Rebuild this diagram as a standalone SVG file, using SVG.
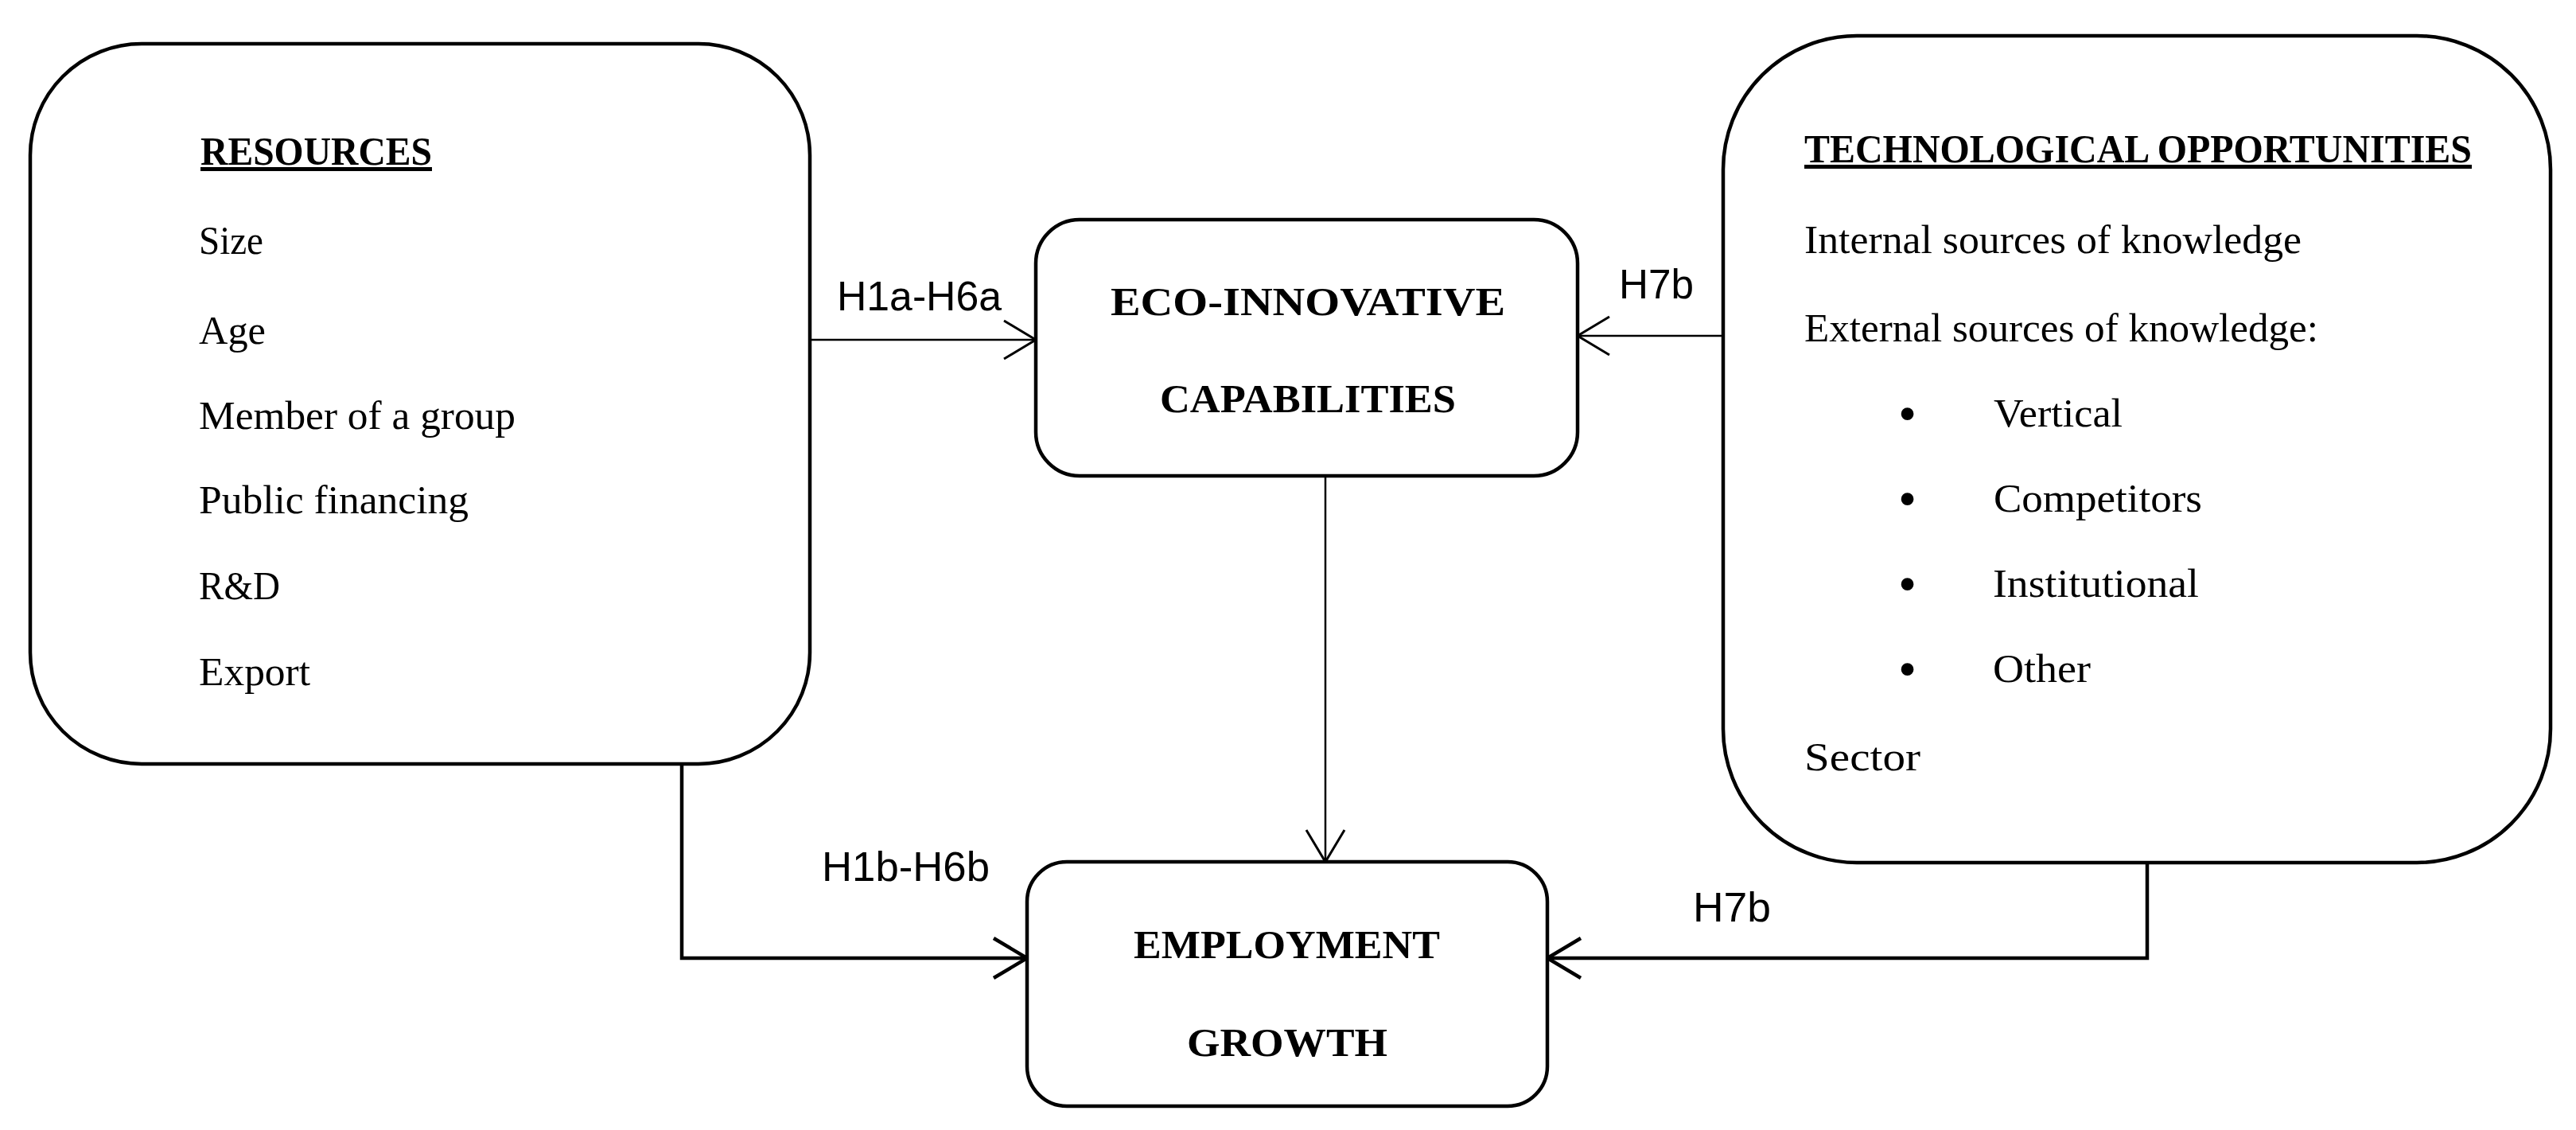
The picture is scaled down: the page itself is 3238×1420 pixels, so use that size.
<svg xmlns="http://www.w3.org/2000/svg" width="3238" height="1420" viewBox="0 0 3238 1420">
<style>
.box{fill:#fff;stroke:#000;stroke-width:4.5}
.t{font-family:"Liberation Serif","Times New Roman",serif;font-size:51px;fill:#000}
.h{font-family:"Liberation Serif","Times New Roman",serif;font-size:50px;font-weight:bold;fill:#000}
.u{text-decoration:underline}
.b{font-family:"Liberation Serif","Times New Roman",serif;font-size:66px;fill:#000}
.lbl{font-family:"Liberation Sans",Arial,sans-serif;font-size:52px;fill:#000}
.thin{fill:none;stroke:#000;stroke-width:2.5}
.thick{fill:none;stroke:#000;stroke-width:4.5}
</style>
<defs>
<marker id="aThin" markerUnits="userSpaceOnUse" markerWidth="60" markerHeight="60" viewBox="-50 -30 60 60" refX="0" refY="0" orient="auto">
<path d="M-40,-24 L0,0 L-40,24" fill="none" stroke="#000" stroke-width="3"/>
</marker>
<marker id="aThick" markerUnits="userSpaceOnUse" markerWidth="60" markerHeight="60" viewBox="-50 -30 60 60" refX="0" refY="0" orient="auto">
<path d="M-42,-25 L0,0 L-42,25" fill="none" stroke="#000" stroke-width="4.5"/>
</marker>
</defs>
<rect width="3238" height="1420" fill="#fff"/>

<g id="connectors">
<line class="thin" x1="1018" y1="427" x2="1302" y2="427" marker-end="url(#aThin)"/>
<line class="thin" x1="2166" y1="422" x2="1983" y2="422" marker-end="url(#aThin)"/>
<line class="thin" x1="1666" y1="598" x2="1666" y2="1083" marker-end="url(#aThin)"/>
<polyline class="thick" points="857,960 857,1204 1291,1204" marker-end="url(#aThick)"/>
<polyline class="thick" points="2699,1084 2699,1204 1945,1204" marker-end="url(#aThick)"/>
<text class="lbl" x="1052" y="390" textLength="207" lengthAdjust="spacingAndGlyphs">H1a-H6a</text>
<text class="lbl" x="2035" y="375" textLength="94" lengthAdjust="spacingAndGlyphs">H7b</text>
<text class="lbl" x="1033" y="1107" textLength="211" lengthAdjust="spacingAndGlyphs">H1b-H6b</text>
<text class="lbl" x="2128" y="1158" textLength="98" lengthAdjust="spacingAndGlyphs">H7b</text>
</g>

<g id="resources">
<rect class="box" x="38" y="55" width="980" height="905" rx="140" ry="140"/>
<text class="h u" x="252" y="207" textLength="291" lengthAdjust="spacingAndGlyphs">RESOURCES</text>
<text class="t" x="250" y="319" textLength="81" lengthAdjust="spacingAndGlyphs">Size</text>
<text class="t" x="250" y="432" textLength="84" lengthAdjust="spacingAndGlyphs">Age</text>
<text class="t" x="250" y="539" textLength="398" lengthAdjust="spacingAndGlyphs">Member of a group</text>
<text class="t" x="250" y="645" textLength="339" lengthAdjust="spacingAndGlyphs">Public financing</text>
<text class="t" x="250" y="753" textLength="102" lengthAdjust="spacingAndGlyphs">R&amp;D</text>
<text class="t" x="250" y="861" textLength="140" lengthAdjust="spacingAndGlyphs">Export</text>
</g>

<g id="eco">
<rect class="box" x="1302" y="276" width="681" height="322" rx="55" ry="55"/>
<text class="h" x="1396" y="396" textLength="496" lengthAdjust="spacingAndGlyphs">ECO-INNOVATIVE</text>
<text class="h" x="1458" y="518" textLength="372" lengthAdjust="spacingAndGlyphs">CAPABILITIES</text>
</g>

<g id="technological">
<rect class="box" x="2166" y="45" width="1040" height="1039" rx="168" ry="168"/>
<text class="h u" x="2268" y="204" textLength="839" lengthAdjust="spacingAndGlyphs">TECHNOLOGICAL OPPORTUNITIES</text>
<text class="t" x="2268" y="318" textLength="625" lengthAdjust="spacingAndGlyphs">Internal sources of knowledge</text>
<text class="t" x="2268" y="429" textLength="646" lengthAdjust="spacingAndGlyphs">External sources of knowledge:</text>
<text class="b" x="2386" y="542">•</text>
<text class="t" x="2506" y="536" textLength="162" lengthAdjust="spacingAndGlyphs">Vertical</text>
<text class="b" x="2386" y="649">•</text>
<text class="t" x="2506" y="643" textLength="262" lengthAdjust="spacingAndGlyphs">Competitors</text>
<text class="b" x="2386" y="756">•</text>
<text class="t" x="2505" y="750" textLength="259" lengthAdjust="spacingAndGlyphs">Institutional</text>
<text class="b" x="2386" y="863">•</text>
<text class="t" x="2505" y="857" textLength="123" lengthAdjust="spacingAndGlyphs">Other</text>
<text class="t" x="2268" y="968" textLength="146" lengthAdjust="spacingAndGlyphs">Sector</text>
</g>

<g id="employment">
<rect class="box" x="1291" y="1083" width="654" height="307" rx="50" ry="50"/>
<text class="h" x="1425" y="1204" textLength="385" lengthAdjust="spacingAndGlyphs">EMPLOYMENT</text>
<text class="h" x="1492" y="1327" textLength="252" lengthAdjust="spacingAndGlyphs">GROWTH</text>
</g>
</svg>
